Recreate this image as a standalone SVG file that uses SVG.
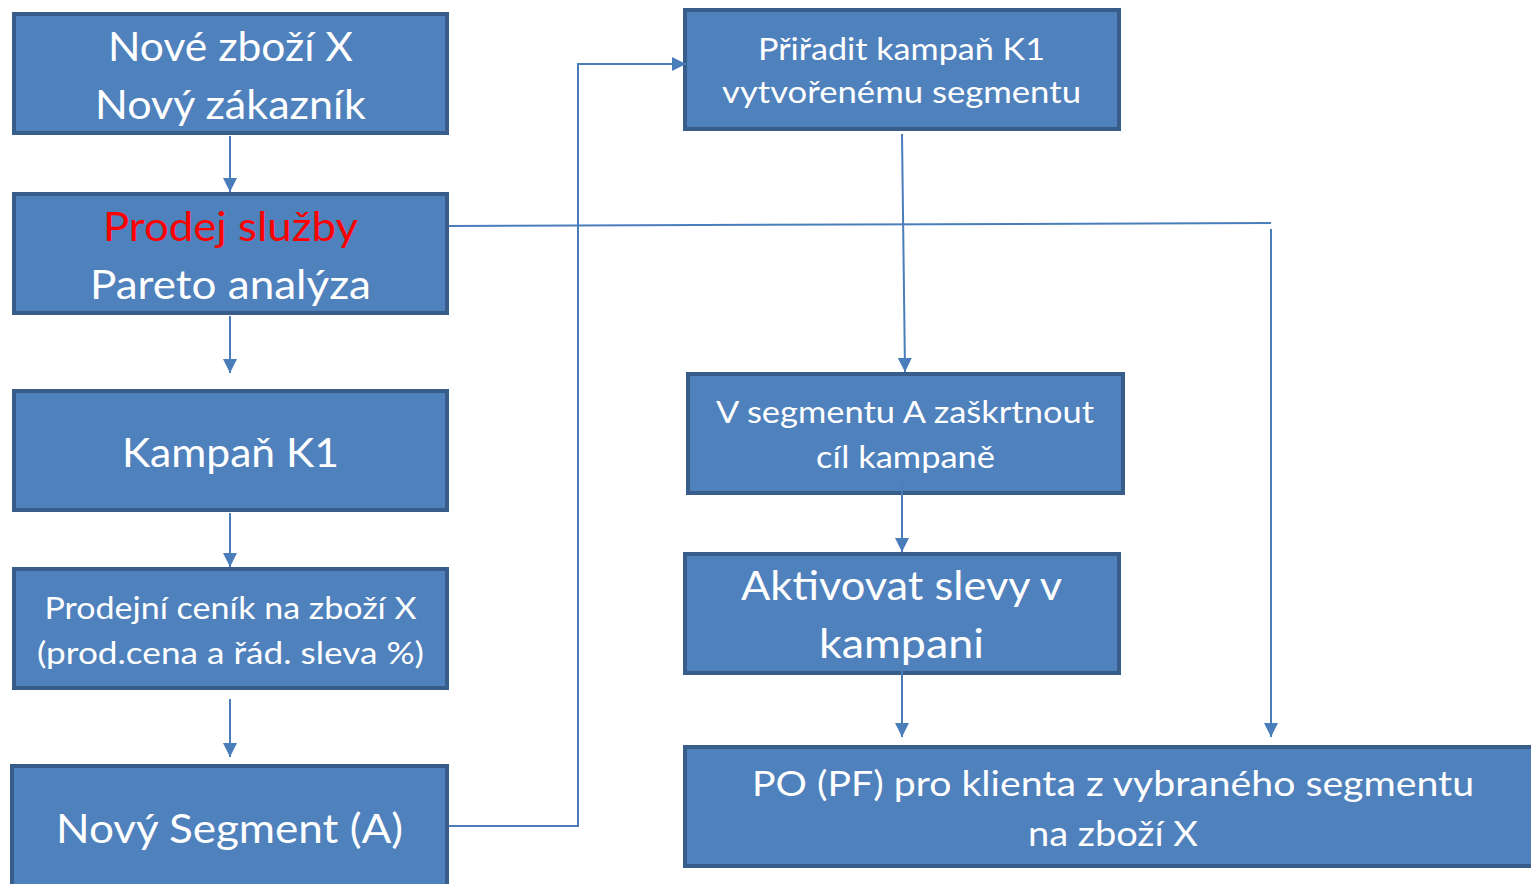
<svg xmlns="http://www.w3.org/2000/svg" width="1531" height="884" viewBox="0 0 1531 884">
<defs>
<style>
.box{fill:#4F81BD;stroke:#385D8A;stroke-width:4}
.t{fill:#FFFFFF;font-family:Lato,"Open Sans","Liberation Sans",sans-serif;text-anchor:middle}
.big{font-size:40px}
.mid{font-size:30px}
.po{font-size:35px}
.red{fill:#FF0000}
.c{fill:none;stroke:#4A7EBB;stroke-width:2}
</style>
<marker id="ah" markerUnits="userSpaceOnUse" markerWidth="14" markerHeight="14" refX="14" refY="7" orient="auto" viewBox="0 0 14 14">
<path d="M0,0 L14,7 L0,14 z" fill="#4A7EBB"/>
</marker>
</defs>
<rect width="1531" height="884" fill="#FFFFFF"/>
<g id="n1"><rect class="box" x="14" y="14" width="433" height="119"/>
<text class="t big" x="230.5" y="61" textLength="245" lengthAdjust="spacingAndGlyphs">Nové zboží X</text>
<text class="t big" x="230.5" y="119" textLength="271" lengthAdjust="spacingAndGlyphs">Nový zákazník</text></g>
<g id="n2"><rect class="box" x="14" y="194" width="433" height="119"/>
<text class="t big red" x="230.5" y="241" textLength="255" lengthAdjust="spacingAndGlyphs">Prodej služby</text>
<text class="t big" x="230.5" y="299" textLength="281" lengthAdjust="spacingAndGlyphs">Pareto analýza</text></g>
<g id="n3"><rect class="box" x="14" y="391" width="433" height="119"/>
<text class="t big" x="230.5" y="467" textLength="217" lengthAdjust="spacingAndGlyphs">Kampaň K1</text></g>
<g id="n4"><rect class="box" x="14" y="569" width="433" height="119"/>
<text class="t mid" x="230.5" y="619" textLength="372" lengthAdjust="spacingAndGlyphs">Prodejní ceník na zboží X</text>
<text class="t mid" x="230.5" y="664" textLength="387" lengthAdjust="spacingAndGlyphs">(prod.cena a řád. sleva %)</text></g>
<g id="n5"><rect class="box" x="12" y="766" width="435" height="140"/>
<text class="t big" x="229.5" y="843" textLength="347" lengthAdjust="spacingAndGlyphs">Nový Segment (A)</text></g>
<g id="n6"><rect class="box" x="685" y="10" width="434" height="119"/>
<text class="t mid" x="901.5" y="60" textLength="287" lengthAdjust="spacingAndGlyphs">Přiřadit kampaň K1</text>
<text class="t mid" x="901.5" y="103" textLength="359" lengthAdjust="spacingAndGlyphs">vytvořenému segmentu</text></g>
<g id="n7"><rect class="box" x="688" y="374" width="435" height="119"/>
<text class="t mid" x="905" y="423" textLength="378" lengthAdjust="spacingAndGlyphs">V segmentu A zaškrtnout</text>
<text class="t mid" x="905.5" y="468" textLength="179" lengthAdjust="spacingAndGlyphs">cíl kampaně</text></g>
<g id="n8"><rect class="box" x="685" y="554" width="434" height="119"/>
<text class="t big" x="901.5" y="600" textLength="321" lengthAdjust="spacingAndGlyphs">Aktivovat slevy v</text>
<text class="t big" x="901.5" y="658" textLength="165" lengthAdjust="spacingAndGlyphs">kampani</text></g>
<g id="n9"><rect class="box" x="685" y="747" width="900" height="119"/>
<text class="t po" x="1113" y="796" textLength="722" lengthAdjust="spacingAndGlyphs">PO (PF) pro klienta z vybraného segmentu</text>
<text class="t po" x="1113" y="846" textLength="170" lengthAdjust="spacingAndGlyphs">na zboží X</text></g>
<g id="connectors">
<path class="c" d="M230,136 V192" marker-end="url(#ah)"/>
<path class="c" d="M230,316 V373" marker-end="url(#ah)"/>
<path class="c" d="M230,513 V567" marker-end="url(#ah)"/>
<path class="c" d="M230,699 V757" marker-end="url(#ah)"/>
<path class="c" d="M449,826 H578 V64 H686" marker-end="url(#ah)"/>
<path class="c" d="M449,226 L1271,223"/>
<path class="c" d="M1271,229 V737" marker-end="url(#ah)"/>
<path class="c" d="M902,134 L905,372" marker-end="url(#ah)"/>
<path class="c" d="M902,482 V552" marker-end="url(#ah)"/>
<path class="c" d="M902,662 V737" marker-end="url(#ah)"/>
</g>
</svg>
